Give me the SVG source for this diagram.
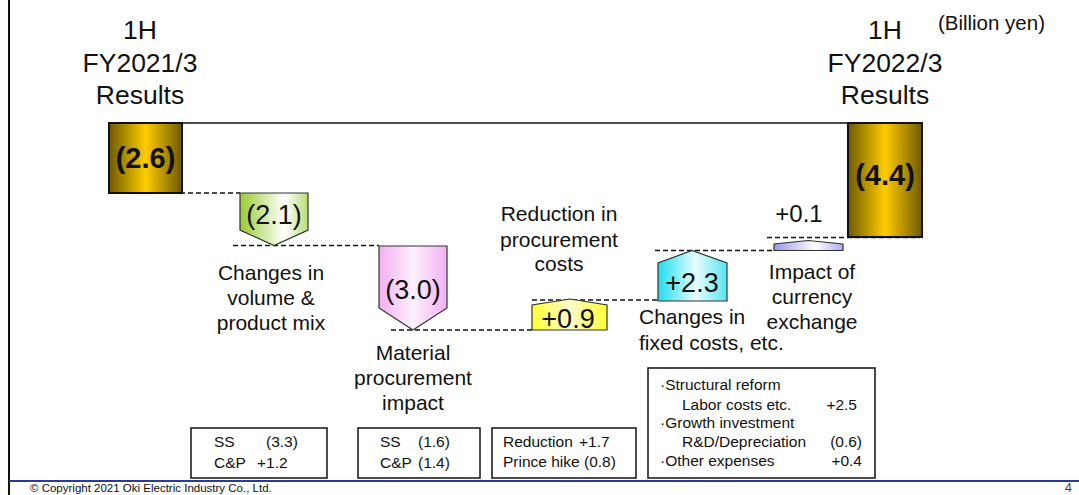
<svg xmlns="http://www.w3.org/2000/svg" width="1079" height="495" viewBox="0 0 1079 495">
<style>
text{font-family:"Liberation Sans",Arial,sans-serif;fill:#111}
.t{font-size:26.5px;text-anchor:middle}
.l{font-size:21px;text-anchor:middle}
.v{font-size:27px;text-anchor:middle}
.b{font-size:29px;font-weight:bold;text-anchor:middle}
.s{font-size:15.5px}
.sh{stroke:#333;stroke-width:1.2}
.dash{stroke:#111;stroke-width:1.3;stroke-dasharray:5 3;fill:none}
.box{fill:#fff;stroke:#111;stroke-width:1.5}
</style>
<defs>
<linearGradient id="gold" x1="0" x2="1" y1="0" y2="0">
<stop offset="0" stop-color="#6e5a00"/><stop offset="0.5" stop-color="#ffcc00"/><stop offset="1" stop-color="#6e5a00"/>
</linearGradient>
<linearGradient id="green" x1="0" x2="1" y1="0" y2="0">
<stop offset="0" stop-color="#99cc33"/><stop offset="0.65" stop-color="#ffffff"/><stop offset="1" stop-color="#b8dd77"/>
</linearGradient>
<linearGradient id="pink" x1="0" x2="1" y1="0" y2="0">
<stop offset="0" stop-color="#f2b0f2"/><stop offset="0.5" stop-color="#fdf0fd"/><stop offset="1" stop-color="#f2b0f2"/>
</linearGradient>
<linearGradient id="yellow" x1="0" x2="1" y1="0" y2="0">
<stop offset="0" stop-color="#ffff33"/><stop offset="0.5" stop-color="#ffffcc"/><stop offset="1" stop-color="#ffff33"/>
</linearGradient>
<linearGradient id="cyan" x1="0" x2="1" y1="0" y2="0">
<stop offset="0" stop-color="#22ddee"/><stop offset="0.55" stop-color="#e8fcff"/><stop offset="1" stop-color="#55e6f2"/>
</linearGradient>
<linearGradient id="lav" x1="0" x2="1" y1="0" y2="0">
<stop offset="0" stop-color="#9999e6"/><stop offset="0.6" stop-color="#ffffff"/><stop offset="1" stop-color="#aaaaee"/>
</linearGradient>
</defs>

<!-- frame -->
<line x1="9" y1="0" x2="9" y2="495" stroke="#111" stroke-width="2"/>
<line x1="9" y1="481" x2="1079" y2="481" stroke="#2a3a9a" stroke-width="2"/>
<text x="30" y="492" style="font-size:11.5px">© Copyright 2021 Oki Electric Industry  Co., Ltd.</text>
<text x="1072" y="492" style="font-size:13px;text-anchor:end;fill:#444">4</text>

<!-- titles -->
<g id="title-left">
<text class="t" x="140" y="39">1H</text>
<text class="t" x="140" y="72">FY2021/3</text>
<text class="t" x="140" y="104">Results</text>
</g>
<g id="title-right">
<text class="t" x="885" y="39">1H</text>
<text class="t" x="885" y="72">FY2022/3</text>
<text class="t" x="885" y="104">Results</text>
</g>
<text x="1045" y="30" style="font-size:20.5px;text-anchor:end">(Billion yen)</text>

<!-- connectors -->
<g id="connectors">
<line x1="182" y1="123" x2="848" y2="123" stroke="#111" stroke-width="1.5"/>
<line class="dash" x1="124" y1="193" x2="240" y2="193"/>
<line class="dash" x1="233" y1="245.5" x2="379" y2="245.5"/>
<line class="dash" x1="391" y1="330" x2="532" y2="330"/>
<line class="dash" x1="532" y1="300" x2="658" y2="300"/>
<line class="dash" x1="655" y1="250.5" x2="774" y2="250.5"/>
<line class="dash" x1="767" y1="237.5" x2="920" y2="237.5"/>
</g>

<!-- nodes -->
<g id="start-bar">
<rect x="109" y="123" width="73" height="70" fill="url(#gold)" stroke="#111" stroke-width="2"/>
<text class="b" x="145.5" y="168">(2.6)</text>
</g>
<g id="end-bar">
<rect x="848" y="123" width="74" height="114" fill="url(#gold)" stroke="#111" stroke-width="2"/>
<text class="b" x="885" y="185">(4.4)</text>
</g>

<g id="volume">
<polygon class="sh" points="240,193 308,193 308,230 274,245.5 240,230" fill="url(#green)"/>
<text class="v" x="274" y="224">(2.1)</text>
<text class="l" x="271" y="280">Changes in</text>
<text class="l" x="271" y="305">volume &amp;</text>
<text class="l" x="271" y="330">product mix</text>
</g>

<g id="material">
<polygon class="sh" points="379,246 447,246 447,308 413,330 379,308" fill="url(#pink)"/>
<text class="v" x="413" y="299">(3.0)</text>
<text class="l" x="413" y="360">Material</text>
<text class="l" x="413" y="385">procurement</text>
<text class="l" x="413" y="410">impact</text>
</g>

<g id="reduction">
<polygon class="sh" points="532,330 607,330 607,305 570,299 532,305" fill="url(#yellow)"/>
<text class="v" x="568" y="328">+0.9</text>
<text class="l" x="559" y="221">Reduction in</text>
<text class="l" x="559" y="247">procurement</text>
<text class="l" x="559" y="271">costs</text>
</g>

<g id="fixed">
<polygon class="sh" points="658,301 727,301 727,263 692,250.5 658,263" fill="url(#cyan)"/>
<text class="v" x="692" y="292">+2.3</text>
<text class="l" x="639" y="324" style="text-anchor:start">Changes in</text>
<text class="l" x="639" y="350" style="text-anchor:start">fixed costs, etc.</text>
</g>

<g id="currency">
<polygon class="sh" points="774,250.5 843,250.5 843,244 808,240.5 774,244" fill="url(#lav)"/>
<text x="799" y="222" style="font-size:24px;text-anchor:middle">+0.1</text>
<text class="l" x="812" y="279">Impact of</text>
<text class="l" x="812" y="304">currency</text>
<text class="l" x="812" y="329">exchange</text>
</g>

<!-- detail boxes -->
<g id="box-volume">
<rect class="box" x="191" y="428" width="136" height="50"/>
<text class="s" x="214" y="447">SS</text><text class="s" x="266" y="447">(3.3)</text>
<text class="s" x="214" y="468">C&amp;P</text><text class="s" x="257" y="468">+1.2</text>
</g>
<g id="box-material">
<rect class="box" x="358" y="428" width="122" height="50"/>
<text class="s" x="380" y="447">SS</text><text class="s" x="418" y="447">(1.6)</text>
<text class="s" x="380" y="468">C&amp;P</text><text class="s" x="418" y="468">(1.4)</text>
</g>
<g id="box-reduction">
<rect class="box" x="492" y="428" width="144" height="50"/>
<text class="s" x="503" y="447">Reduction</text><text class="s" x="579" y="447">+1.7</text>
<text class="s" x="503" y="467">Prince hike (0.8)</text>
</g>
<g id="box-fixed">
<rect class="box" x="648" y="368" width="227" height="110"/>
<text class="s" x="660" y="390">·Structural reform</text>
<text class="s" x="682" y="410">Labor costs etc.</text><text class="s" x="857" y="410" style="text-anchor:end">+2.5</text>
<text class="s" x="660" y="428">·Growth investment</text>
<text class="s" x="682" y="447">R&amp;D/Depreciation</text><text class="s" x="862" y="447" style="text-anchor:end">(0.6)</text>
<text class="s" x="660" y="466">·Other expenses</text><text class="s" x="862" y="466" style="text-anchor:end">+0.4</text>
</g>
</svg>
